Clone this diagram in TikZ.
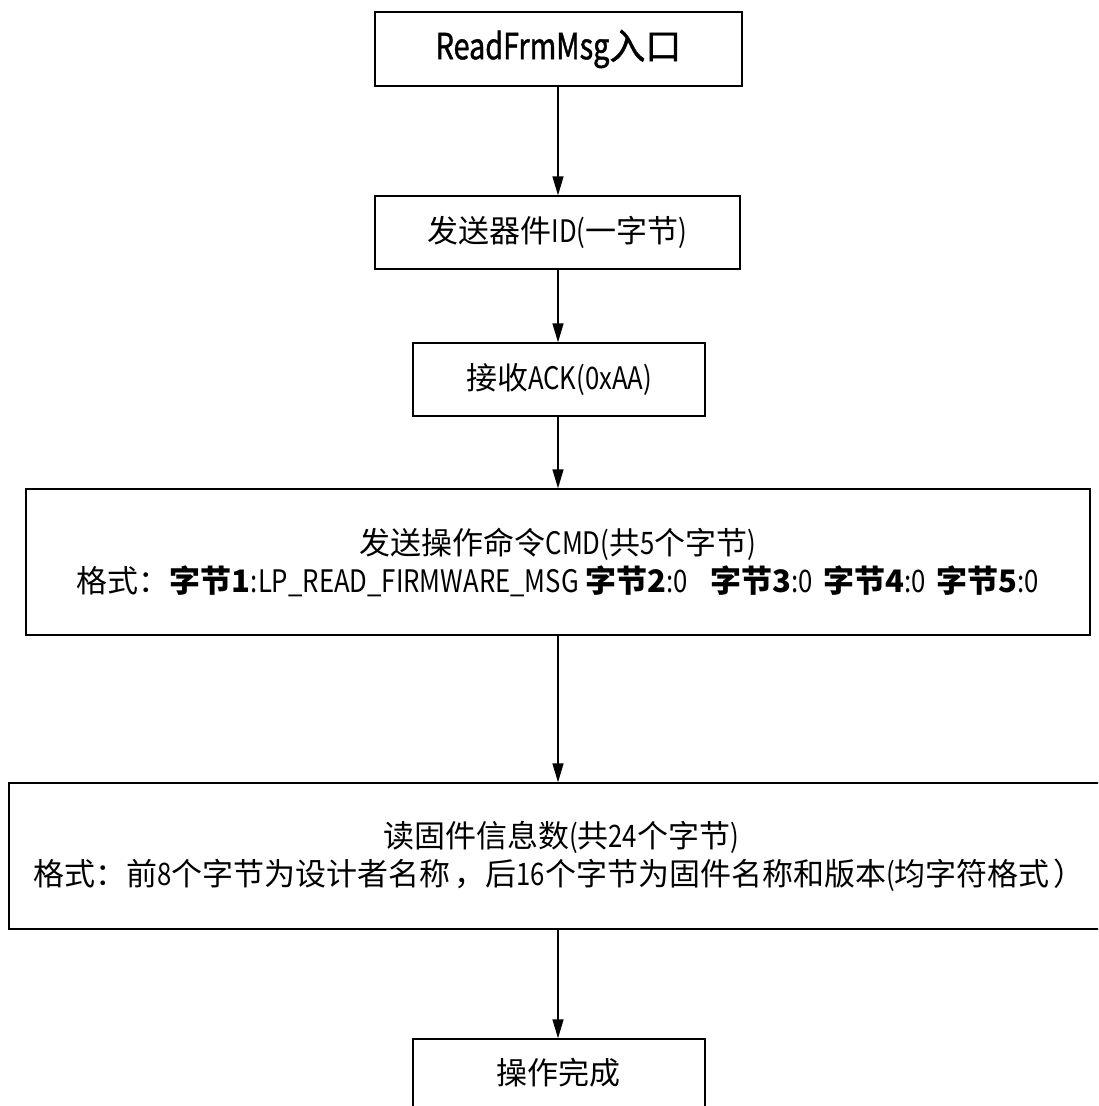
\documentclass[tikz,border=0pt]{standalone}
\usepackage{fontspec}
\setmainfont{Noto Sans CJK SC}
\newfontfamily\lat[FakeStretch=0.83]{Noto Sans CJK SC}
\newfontfamily\heavy[FakeBold=1.2]{Noto Sans CJK SC}
\newfontfamily\heavylat[FakeBold=1.2,FakeStretch=0.8]{Noto Sans CJK SC}
\usetikzlibrary{arrows.meta}
\begin{document}
\begin{tikzpicture}[x=1pt,y=-1pt,
  box/.style={draw,line width=1.4pt,inner sep=0pt,align=center,
    font=\fontsize{31}{38}\selectfont},
  txt/.style={inner sep=0pt,align=center,font=\fontsize{31}{38}\selectfont},
  arr/.style={line width=1.4pt,-{Triangle[length=19pt,width=11pt]}}]
\useasboundingbox (0,0) rectangle (1098,1106);
\clip (0,0) rectangle (1098,1106);
\fill[white] (0,0) rectangle (1098,1106);
\coordinate (ax) at (558,0);
\node[box,minimum width=367pt,minimum height=74pt] (n1) at (558.5,49)
  {\heavy\fontsize{36}{40}\selectfont{\heavylat ReadFrmMsg}入口};
\node[box,minimum width=365pt,minimum height=73pt] (n2) at (557.5,232.5)
  {发送器件{\lat ID(}一字节{\lat )}};
\node[box,minimum width=292pt,minimum height=73pt] (n3) at (559,379.5)
  {接收{\lat ACK(0xAA)}};
\node[box,minimum width=1064pt,minimum height=146pt] (n4) at (558,562)
  {发送操作命令{\lat CMD(}共{\lat 5}个字节{\lat )}\\
   格式：{\bfseries 字节1}{\lat :LP\_READ\_FIRMWARE\_MSG} {\bfseries 字节2}{\lat :0}\hspace{22pt}{\bfseries 字节3}{\lat :0}\hspace{4pt} {\bfseries 字节4}{\lat :0}\hspace{4pt} {\bfseries 字节5}{\lat :0}};
\node[box,minimum width=1101pt,minimum height=146pt] (n5) at (559.5,856) {};
\node[txt] (t5) at (559,856)
  {\hspace{4pt}读固件信息数{\lat (}共{\lat 24}个字节{\lat )}\\
   格式：前{\lat 8}个字节为设计者名称\hspace{4pt}，后{\lat 16}个字节为固件名称和版本{\lat (}均字符格式\hspace{4pt}）};
\node[box,minimum width=292pt,minimum height=71pt] (n6) at (559,1074.5) {};
\node[txt] (t6) at (558,1073) {操作完成};
\draw[arr] (n1.south -| ax) -- (n2.north -| ax);
\draw[arr] (n2.south -| ax) -- (n3.north -| ax);
\draw[arr] (n3.south -| ax) -- (n4.north -| ax);
\draw[arr] (n4.south -| ax) -- (n5.north -| ax);
\draw[arr] (n5.south -| ax) -- (n6.north -| ax);
\end{tikzpicture}
\end{document}
